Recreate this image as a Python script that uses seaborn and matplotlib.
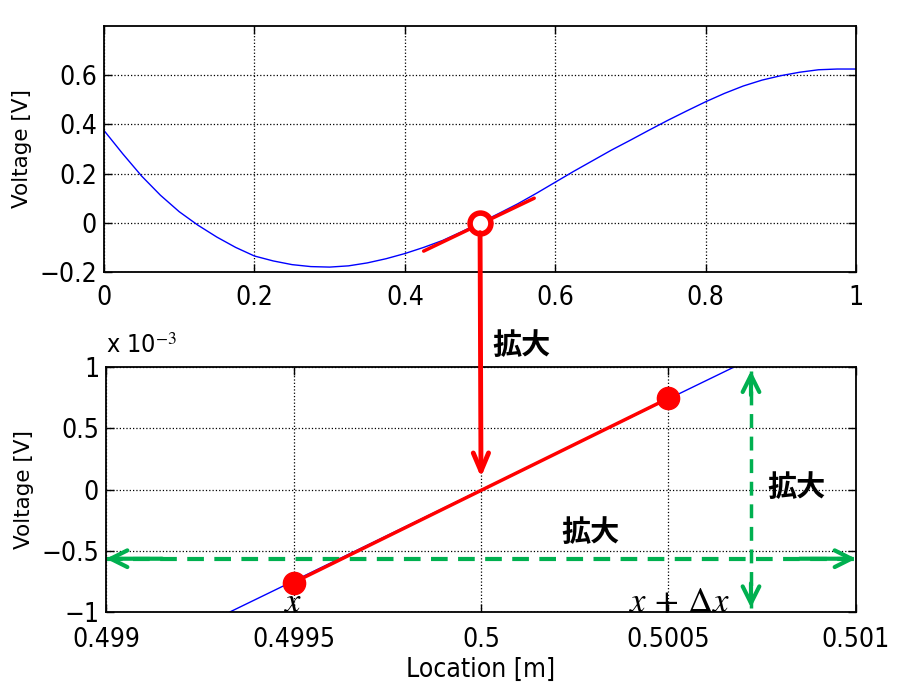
import numpy as np
import matplotlib
matplotlib.use('Agg')
import matplotlib.pyplot as plt
import seaborn as sns
import pandas as pd
from matplotlib.patches import ConnectionPatch

# top panel: voltage along the line
loc_top = [0.0, 0.025, 0.05, 0.075, 0.1, 0.125, 0.15, 0.175, 0.2, 0.225, 0.25,
           0.275, 0.3, 0.325, 0.35, 0.375, 0.4, 0.425, 0.45, 0.475, 0.5,
           0.525, 0.55, 0.575, 0.6, 0.625, 0.65, 0.675, 0.7, 0.725, 0.75,
           0.775, 0.8, 0.825, 0.85, 0.875, 0.9, 0.925, 0.95, 0.975, 1.0]
volt_top = [0.375, 0.28, 0.19, 0.112, 0.045, -0.01, -0.058, -0.1, -0.135, -0.155, -0.17,
            -0.178, -0.18, -0.175, -0.163, -0.146, -0.125, -0.1, -0.072, -0.037, 0.0,
            0.038, 0.077, 0.12, 0.165, 0.21, 0.253, 0.296, 0.336, 0.377, 0.417,
            0.455, 0.492, 0.526, 0.556, 0.58, 0.598, 0.612, 0.622, 0.625, 0.625]
tangent_x = [0.425, 0.572]
tangent_y = [-0.115, 0.1]
point_x = 0.5
point_y = 0.0

# bottom panel: zoomed view (y in units of 1e-3 V)
loc_zoom = [0.49933, 0.500675]
volt_zoom = [-1.0, 1.0]
seg_x = [0.4995, 0.5005]
seg_y = [-0.76, 0.745]
h_arrow_y = -0.565
v_arrow_x = 0.50072
v_arrow_y = [-0.965, 0.97]

top_xticks = [0, 0.2, 0.4, 0.6, 0.8, 1]
top_xlabels = ['0', '0.2', '0.4', '0.6', '0.8', '1']
top_yticks = [-0.2, 0, 0.2, 0.4, 0.6]
top_ylabels = ['\u22120.2', '0', '0.2', '0.4', '0.6']
bot_xticks = [0.499, 0.4995, 0.5, 0.5005, 0.501]
bot_xlabels = ['0.499', '0.4995', '0.5', '0.5005', '0.501']
bot_yticks = [-1, -0.5, 0, 0.5, 1]
bot_ylabels = ['\u22121', '\u22120.5', '0', '0.5', '1']

sns.set_style('ticks')
plt.rcParams['font.family'] = ['DejaVu Sans']
plt.rcParams['mathtext.fontset'] = 'stix'
for k in ['text.color', 'axes.labelcolor', 'xtick.color', 'ytick.color']:
    plt.rcParams[k] = 'black'

jp = ['Noto Sans CJK JP', 'DejaVu Sans']
nar = dict(family='DejaVu Sans', stretch='condensed')

fig = plt.figure(figsize=(9, 6.98), dpi=100)
ax1 = fig.add_axes([0.1156, 0.6103, 0.8356, 0.3525])
ax2 = fig.add_axes([0.1178, 0.1232, 0.8333, 0.351])

df_top = pd.DataFrame({'loc': loc_top, 'volt': volt_top})
sns.lineplot(data=df_top, x='loc', y='volt', ax=ax1, color='#0000ff', lw=1.0)
ax1.plot(tangent_x, tangent_y, color='#ff0000', lw=2.5)
ax1.plot([point_x], [point_y], 'o', ms=15, mfc='white', mec='#ff0000', mew=4, zorder=5)

df_zoom = pd.DataFrame({'loc': loc_zoom, 'volt': volt_zoom})
sns.lineplot(data=df_zoom, x='loc', y='volt', ax=ax2, color='#0000ff', lw=1.0)
ax2.plot(seg_x, seg_y, color='#ff0000', lw=2.5, marker='o', ms=16, zorder=4)

for ax in (ax1, ax2):
    ax.grid(True, color='black', ls=':', lw=0.9)
    ax.tick_params(direction='in', top=True, right=True, length=6, width=1,
                   labelsize=19)
    ax.tick_params(axis='y', pad=5)
    for s in ax.spines.values():
        s.set_color('black')
        s.set_linewidth(1.3)
    ax.set_ylabel('Voltage [V]', fontsize=15.5, family='DejaVu Sans', labelpad=5)
    ax.set_xlabel('')
ax1.tick_params(axis='x', pad=9)
ax2.tick_params(axis='x', pad=11)

ax1.set_xlim(0, 1)
ax1.set_ylim(-0.2, 0.8)
ax1.set_xticks(top_xticks, top_xlabels, **nar)
ax1.set_yticks(top_yticks, top_ylabels, **nar)

ax2.set_xlim(0.499, 0.501)
ax2.set_ylim(-1, 1)
ax2.set_xticks(bot_xticks, bot_xlabels, **nar)
ax2.set_yticks(bot_yticks, bot_ylabels, **nar)
ax2.set_xlabel('Location [m]', fontsize=19, labelpad=3, **nar)
fig.text(0.118, 0.487, r'x 10$^{-3}$', fontsize=18, ha='left', va='bottom', **nar)

# red arrow from top point down into zoomed panel
con = ConnectionPatch(xyA=(point_x, -0.04), coordsA=ax1.transData,
                      xyB=(0.5, 0.1), coordsB=ax2.transData,
                      arrowstyle='->,head_length=1.3,head_width=0.55',
                      color='#ff0000', lw=3.5, zorder=10)
fig.add_artist(con)
fig.text(0.579, 0.506, '拡大', fontsize=21, fontweight='bold', family=jp,
         ha='center', va='center')

# green dashed double arrows
green = '#00b050'
ax2.plot([0.499, 0.501], [h_arrow_y, h_arrow_y], color=green, lw=3, ls=(0, (4, 2.5)),
         clip_on=False)
ax2.plot([v_arrow_x, v_arrow_x], v_arrow_y, color=green, lw=2.5, ls=(0, (4, 2.5)))
head = dict(arrowstyle='->,head_length=1.2,head_width=0.6', color=green, lw=3,
            shrinkA=0, shrinkB=0)
ax2.annotate('', xy=(0.499, h_arrow_y), xytext=(0.49915, h_arrow_y), arrowprops=head,
             annotation_clip=False)
ax2.annotate('', xy=(0.501, h_arrow_y), xytext=(0.50085, h_arrow_y), arrowprops=head,
             annotation_clip=False)
ax2.annotate('', xy=(v_arrow_x, v_arrow_y[1]), xytext=(v_arrow_x, v_arrow_y[1] - 0.2),
             arrowprops=head)
ax2.annotate('', xy=(v_arrow_x, v_arrow_y[0]), xytext=(v_arrow_x, v_arrow_y[0] + 0.2),
             arrowprops=head)

ax2.text(0.500293, -0.35, '拡大', fontsize=21, fontweight='bold', family=jp,
         ha='center', va='center')
ax2.text(0.50084, 0.02, '拡大', fontsize=21, fontweight='bold', family=jp,
         ha='center', va='center')
ax2.text(seg_x[0], -0.92, r'$x$', fontsize=25, ha='center', va='center')
ax2.text(0.50053, -0.92, r'$x\,+\,\Delta x$', fontsize=25, ha='center', va='center')

fig.savefig('out.png', dpi=100, facecolor='white')
